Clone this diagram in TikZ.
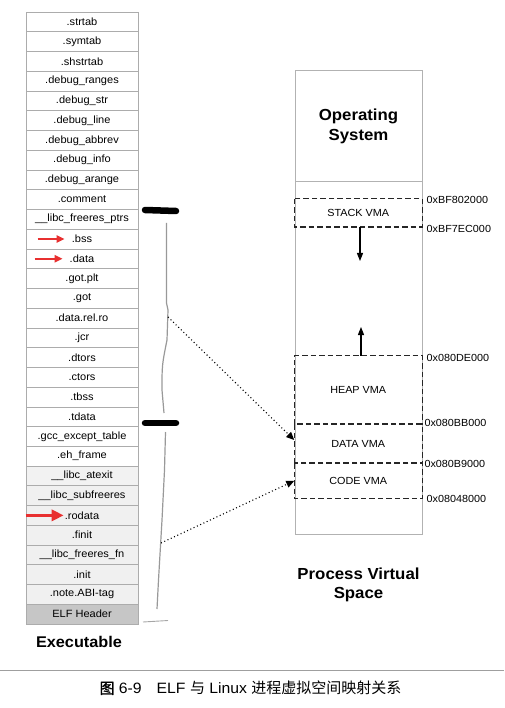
\documentclass[tikz,border=0pt]{standalone}
\usepackage{fontspec}
\setmainfont[FakeStretch=1.05]{Liberation Sans}
\newfontfamily\cjk{Noto Sans CJK SC}
\newfontfamily\cjkb[FakeBold=1.5]{Noto Sans CJK SC}
\usetikzlibrary{arrows.meta}
\definecolor{redarrow}{RGB}{232,48,48}
\tikzset{
  sec/.style={draw=gray!65, line width=0.6pt, minimum width=112pt, minimum height=19.74pt,
    inner sep=0pt, font=\fontsize{10.5}{12}\selectfont},
  vma/.style={minimum width=127.5pt, inner sep=0pt, font=\fontsize{10.3}{12}\selectfont},
  vmaline/.style={draw=black!85, dash pattern=on 5.5pt off 3pt, line width=1.25pt},
  addr/.style={anchor=west, inner sep=0pt, font=\fontsize{10.3}{12}\selectfont},
  title/.style={font=\bfseries\fontsize{16}{19.5}\selectfont, align=center, inner sep=0pt},
  redarr/.style={draw=redarrow, line width=2pt, -{Triangle[length=8pt,width=7pt]}},
  bigredarr/.style={draw=redarrow, line width=3pt, -{Triangle[length=12pt,width=11pt]}},
  marker/.style={line width=6.5pt, line cap=round},
  bracelike/.style={draw=gray!80, line width=1.2pt},
  maparrow/.style={dash pattern=on 1pt off 2.6pt, line width=1.1pt, -{Triangle[length=8pt,width=7pt]}},
  vmarrow/.style={line width=1.1pt, -{Triangle[length=8pt,width=6pt]}},
  column/.style={draw=gray!60, line width=0.8pt, inner sep=0pt}
}
\begin{document}
\begin{tikzpicture}[x=1pt,y=-1pt]
\useasboundingbox (0,0) rectangle (504,708);

% ---- Executable sections ----
\foreach \lbl/\col [count=\i] in {
 .strtab/white, .symtab/white, .shstrtab/white, .debug\_ranges/white, .debug\_str/white,
 .debug\_line/white, .debug\_abbrev/white, .debug\_info/white, .debug\_arange/white,
 .comment/white, \_\_libc\_freeres\_ptrs/white, .bss/white, .data/white, .got.plt/white,
 .got/white, .data.rel.ro/white, .jcr/white, .dtors/white, .ctors/white, .tbss/white,
 .tdata/white, .gcc\_except\_table/white, .eh\_frame/white, \_\_libc\_atexit/gray!10,
 \_\_libc\_subfreeres/gray!12, .rodata/gray!12, .finit/gray!12, \_\_libc\_freeres\_fn/gray!12,
 .init/gray!12, .note.ABI-tag/gray!12, ELF Header/gray!45}
  \node[sec, fill=\col] (r\i) at (82, {12+19.74*(\i-0.5)}) {\lbl};

\node[title, font=\bfseries\fontsize{15.5}{18}\selectfont] (exe) at (79,642) {Executable};

% red arrows
\draw[redarr] ([xshift=12pt]r12.west) -- ([xshift=39pt]r12.west);
\draw[redarr] ([xshift=9pt]r13.west) -- ([xshift=37pt]r13.west);
\draw[bigredarr] ([xshift=0pt]r26.west) -- ([xshift=38pt]r26.west);

% hand-drawn segment markers
\draw[marker] (145,210) -- (176,211);
\draw[marker] (145,423) -- (176,423);
\draw[bracelike] (166.5,223) -- (166.5,303) -- (168,310) -- (167,340)
   .. controls (162,365) .. (162,390) -- (164,413);
\draw[bracelike] (165.5,432) -- (164.5,470) -- (162,520) -- (158.5,580) -- (157,609);
\draw[gray!70, line width=0.9pt] (143,622) -- (168,620.5);
\coordinate (b1) at (168,317);
\coordinate (b2) at (161,543);

% ---- Process virtual space ----
\node[column, minimum width=127pt, minimum height=111pt] (os) at (358.5,126.3) {};
\node[title] (ostxt) at (358.5,126.5) {Operating\\System};
\node[column, minimum width=127pt, minimum height=352.3pt] (vs) at (358.5,358) {};

\node[vma, minimum height=27.7pt] (stack) at (358.2,212.9) {STACK VMA};
\node[vma, minimum height=68.3pt] (heap) at (358.2,390.2) {HEAP VMA};
\node[vma, minimum height=39pt] (data) at (358.2,443.8) {DATA VMA};
\node[vma, minimum height=35pt] (code) at (358.2,480.8) {CODE VMA};
\draw[vmaline] (stack.north west) rectangle (stack.south east);
\draw[vmaline] (heap.south west) -- (heap.north west) -- (heap.north east) -- (heap.south east);
\draw[vmaline] (data.south west) -- (data.north west) -- (data.north east) -- (data.south east);
\draw[vmaline] (code.north west) rectangle (code.south east);

\coordinate (sdown) at (360,261);
\coordinate (hup) at (361,327);
\draw[vmarrow] (stack.south -| sdown) -- (sdown);
\draw[vmarrow] (heap.north -| hup) -- (hup);

\node[addr] (a1) at (426.5,200) {0xBF802000};
\node[addr] (a2) at (426.5,229.3) {0xBF7EC000};
\node[addr] (a3) at (426.5,357.7) {0x080DE000};
\node[addr] (a4) at (424.3,423.3) {0x080BB000};
\node[addr] (a5) at (424.3,464.3) {0x080B9000};
\node[addr] (a6) at (426.5,499.3) {0x08048000};

\node[title] (pvs) at (358.5,585) {Process Virtual\\Space};

% mapping arrows
\draw[maparrow] (b1) -- ([yshift=3.8pt]data.west);
\draw[maparrow] (b2) -- (code.west);

% ---- caption ----
\draw[gray!75, line width=0.9pt] (0,670) -- (504,670);
\node[inner sep=0pt, font=\fontsize{15}{18}\selectfont] (cap) at (250.5,688)
  {{\cjkb 图} 6-9\quad ELF {\cjk 与} Linux {\cjk 进程虚拟空间映射关系}};
\end{tikzpicture}
\end{document}
